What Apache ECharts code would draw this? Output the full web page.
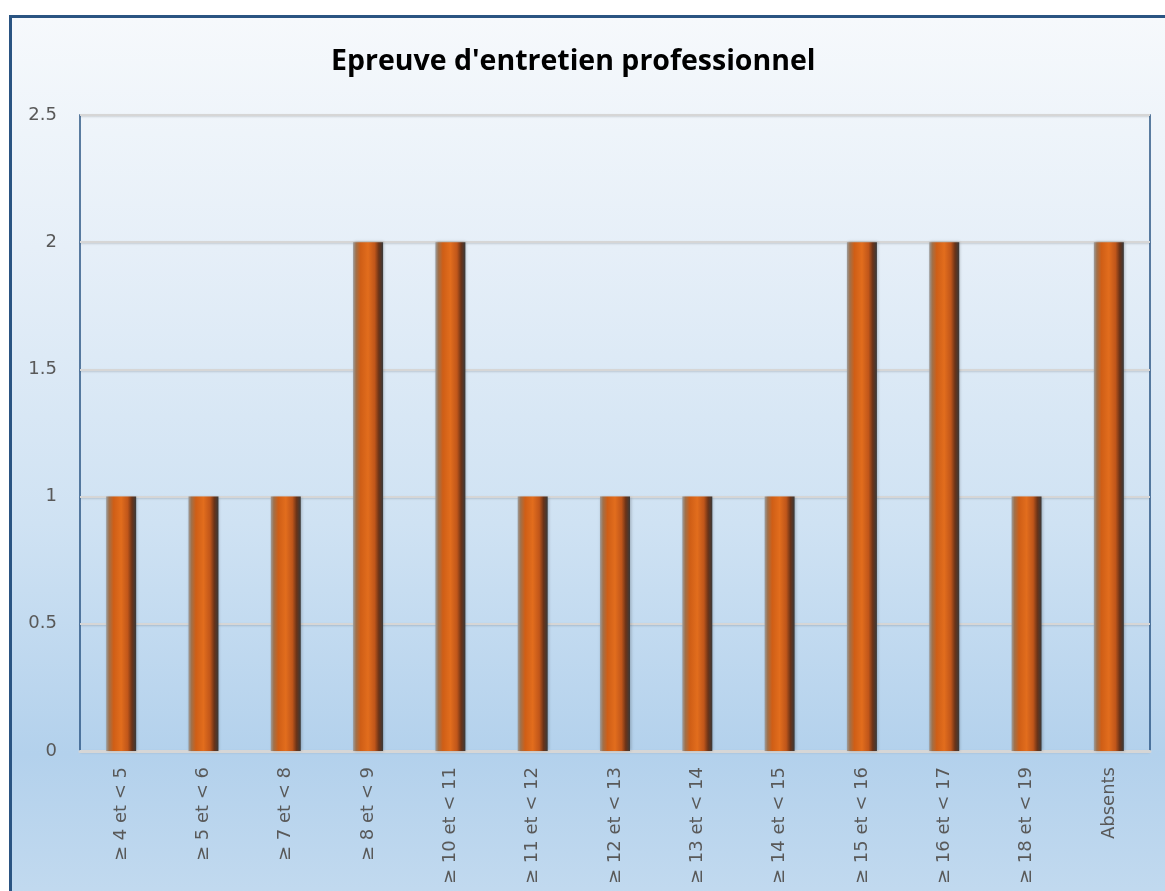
<!DOCTYPE html>
<html>
<head>
<meta charset="utf-8">
<script src="https://cdn.jsdelivr.net/npm/echarts@6/dist/echarts.min.js"></script>
<style>
  html, body { margin: 0; padding: 0; background: #ffffff; }
  .frame {
    position: absolute;
    left: 9px;
    top: 15px;
    width: 1200px;
    height: 920px;
    border-left: 3px solid #2a5482;
    border-top: 3px solid #2a5482;
    background: linear-gradient(to bottom, #f6f9fc 0%, #e6eff8 25%, #cfe2f3 55%, #b3d1ec 80%, #c6dcf0 100%);
  }
  #chart { position: absolute; left: 0; top: 0; width: 1165px; height: 891px; }
</style>
</head>
<body>
<div class="frame"></div>
<div id="chart"></div>
<script>
// catégories de notes
var categories = ['≥ 4 et < 5', '≥ 5 et < 6', '≥ 7 et < 8', '≥ 8 et < 9', '≥ 10 et < 11', '≥ 11 et < 12',
  '≥ 12 et < 13', '≥ 13 et < 14', '≥ 14 et < 15', '≥ 15 et < 16', '≥ 16 et < 17', '≥ 18 et < 19', 'Absents']
// effectifs
var counts = [1, 1, 1, 2, 2, 1, 1, 1, 1, 2, 2, 1, 2]
var yTicks = [0, 0.5, 1, 1.5, 2, 2.5]

var myChart = echarts.init(document.getElementById('chart'))
var option = {
  backgroundColor: 'transparent',
  animation: false,
  title: {
    text: "Epreuve d'entretien professionnel",
    left: 326,
    top: 42,
    textStyle: {
      fontFamily: 'Open Sans',
      fontWeight: 'bold',
      fontSize: 28.5,
      color: '#000000'
    }
  },
  grid: {
    show: true,
    left: 80,
    top: 115,
    right: 15,
    bottom: 140,
    borderColor: '#2a5482',
    borderWidth: 1.5,
    backgroundColor: 'transparent'
  },
  xAxis: {
    type: 'category',
    data: categories,
    axisLine: { lineStyle: { color: '#d6d6d6', width: 3 } },
    axisTick: { show: false },
    axisLabel: {
      rotate: 90,
      interval: 0,
      margin: 16,
      fontFamily: 'DejaVu Sans',
      fontSize: 18,
      color: '#595959'
    }
  },
  yAxis: {
    type: 'value',
    min: 0,
    max: 2.5,
    interval: 0.5,
    axisLine: { show: false },
    axisTick: { show: false },
    axisLabel: {
      margin: 23,
      fontFamily: 'DejaVu Sans',
      fontSize: 18,
      color: '#595959',
      formatter: function (v) { return yTicks.indexOf(v) >= 0 ? String(v) : '' }
    },
    splitLine: {
      lineStyle: {
        color: '#d6d6d6',
        width: 2,
        shadowColor: 'rgba(0,0,0,0.15)',
        shadowBlur: 2,
        shadowOffsetY: 1
      }
    }
  },
  series: [
    {
      type: 'bar',
      data: counts,
      barWidth: 30,
      itemStyle: {
        // effet biseauté
        color: new echarts.graphic.LinearGradient(0, 0, 1, 0, [
          { offset: 0, color: '#9c9c9c' },
          { offset: 0.1, color: '#a0704a' },
          { offset: 0.25, color: '#cf5e16' },
          { offset: 0.5, color: '#e26d1d' },
          { offset: 0.72, color: '#c0561a' },
          { offset: 0.86, color: '#6a3318' },
          { offset: 1, color: '#3a3a3a' }
        ]),
        shadowColor: 'rgba(0,0,0,0.25)',
        shadowBlur: 3,
        shadowOffsetX: 1
      }
    }
  ]
}
myChart.setOption(option)
</script>
</body>
</html>
